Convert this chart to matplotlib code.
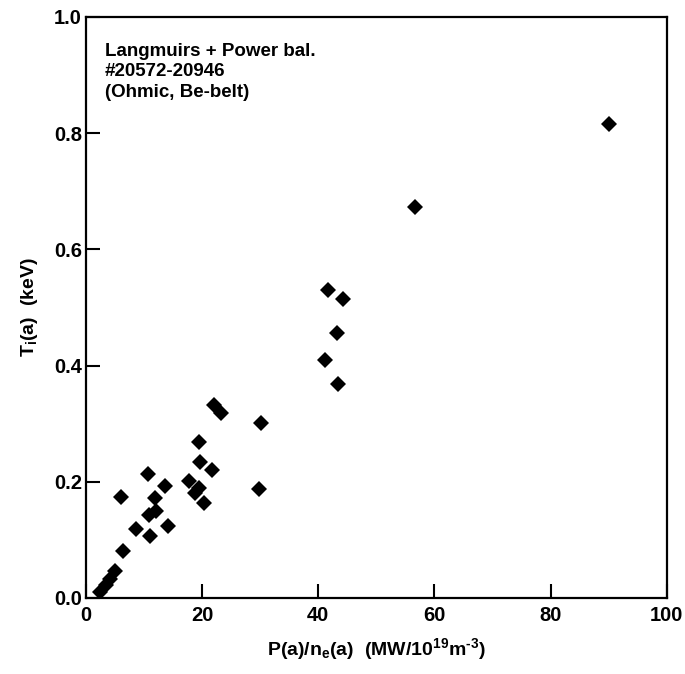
import matplotlib
matplotlib.use('Agg')
import matplotlib.pyplot as plt

# values
p_over_n = [2.5, 3.5, 4.2, 5.0, 6.4, 6.0, 8.6, 10.6, 10.9, 11.1, 11.9, 12.0,
            13.6, 14.1, 17.7, 18.8, 19.4, 19.5, 19.7, 20.3, 21.7, 22.1, 23.3,
            29.8, 30.2, 41.2, 41.6, 43.2, 43.4, 44.3, 56.7, 90.0]
ti_edge = [0.010, 0.022, 0.033, 0.047, 0.080, 0.174, 0.118, 0.213, 0.143, 0.107,
           0.172, 0.149, 0.193, 0.124, 0.202, 0.181, 0.269, 0.189, 0.234, 0.163,
           0.220, 0.333, 0.319, 0.187, 0.301, 0.410, 0.530, 0.456, 0.368, 0.515,
           0.673, 0.815]

x_ticks = [0, 20, 40, 60, 80, 100]
y_ticks = [0.0, 0.2, 0.4, 0.6, 0.8, 1.0]
note_lines = ['Langmuirs + Power bal.', '#20572-20946', '(Ohmic, Be-belt)']

plt.rcParams['font.family'] = 'Liberation Sans'
plt.rcParams['font.weight'] = 'bold'
plt.rcParams['axes.labelweight'] = 'bold'
plt.rcParams['mathtext.fontset'] = 'custom'
plt.rcParams['mathtext.rm'] = 'Liberation Sans:bold'
plt.rcParams['mathtext.it'] = 'Liberation Sans:bold'
plt.rcParams['mathtext.default'] = 'rm'

fig = plt.figure(figsize=(6.85, 6.74), dpi=100)
ax = fig.add_axes([0.1255, 0.1128, 0.848, 0.862])

ax.plot(p_over_n, ti_edge, linestyle='none', marker='D', markersize=8,
        color='black', markeredgewidth=0)

ax.set_xlim(0, 100)
ax.set_ylim(0, 1.0)
ax.set_xticks(x_ticks)
ax.set_yticks(y_ticks)
ax.set_xticklabels([str(t) for t in x_ticks])
ax.set_yticklabels([f'{t:.1f}' for t in y_ticks])
ax.tick_params(direction='in', length=10, width=1.5, labelsize=14.5, pad=3)
ax.tick_params(axis='x', pad=6)
for s in ax.spines.values():
    s.set_linewidth(1.6)

ax.set_xlabel(r'P(a)/n$_{e}$(a)  (MW/10$^{19}$m$^{\text{-3}}$)', fontsize=14, labelpad=8)
ax.set_ylabel(r'T$_{i}$(a)  (keV)', fontsize=14, labelpad=10)

ax.text(0.032, 0.955, '\n'.join(note_lines), transform=ax.transAxes,
        fontsize=13.5, va='top', ha='left', linespacing=1.25)

fig.savefig('out.png', dpi=100)
